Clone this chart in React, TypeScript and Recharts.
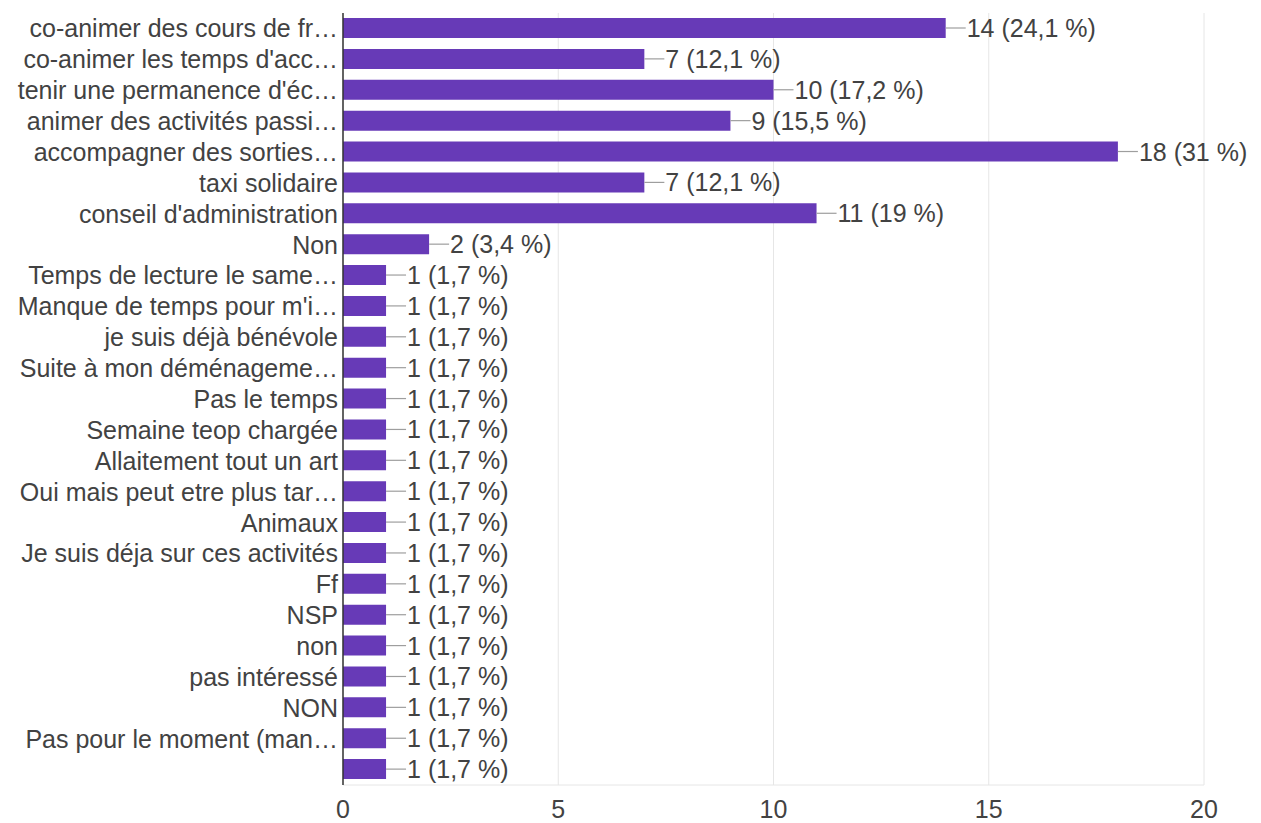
import React from 'react';
import { BarChart, Bar, XAxis, YAxis, CartesianGrid, LabelList } from 'recharts';

// Answers as shown (already truncated like the source chart)
const categories = [
  'co-animer des cours de fr…',
  "co-animer les temps d'acc…",
  "tenir une permanence d'éc…",
  'animer des activités passi…',
  'accompagner des sorties…',
  'taxi solidaire',
  "conseil d'administration",
  'Non',
  'Temps de lecture le same…',
  "Manque de temps pour m'i…",
  'je suis déjà bénévole',
  'Suite à mon déménageme…',
  'Pas le temps',
  'Semaine teop chargée',
  'Allaitement tout un art',
  'Oui mais peut etre plus tar…',
  'Animaux',
  'Je suis déja sur ces activités',
  'Ff',
  'NSP',
  'non',
  'pas intéressé',
  'NON',
  'Pas pour le moment (man…',
  '',
];

const counts = [14, 7, 10, 9, 18, 7, 11, 2, 1, 1, 1, 1, 1, 1, 1, 1, 1, 1, 1, 1, 1, 1, 1, 1, 1];

const percents = [
  '24,1', '12,1', '17,2', '15,5', '31', '12,1', '19', '3,4',
  '1,7', '1,7', '1,7', '1,7', '1,7', '1,7', '1,7', '1,7', '1,7',
  '1,7', '1,7', '1,7', '1,7', '1,7', '1,7', '1,7', '1,7',
];

const xTicks = [0, 5, 10, 15, 20];

const chartData = categories.map((name, i) => ({
  name: `${i}|${name}`,
  count: counts[i],
}));

const FONT = '"Liberation Sans", Arial, sans-serif';
const TEXT = '#424242';
const SIZE = 25;

// value label with the short leader line, like Google Forms
const ValueLabel = (props: any) => {
  const { x, y, width, height, index } = props;
  const endX = x + width;
  const cy = y + height / 2;
  return (
    <g>
      <line x1={endX} y1={cy} x2={endX + 20} y2={cy} stroke="#9e9e9e" strokeWidth={1.2} />
      <text
        x={endX + 21}
        y={cy}
        dominantBaseline="central"
        fontSize={SIZE}
        fontFamily={FONT}
        fill={TEXT}
      >
        {`${counts[index]} (${percents[index]} %)`}
      </text>
    </g>
  );
};

const CategoryTick = (props: any) => {
  const { y, payload } = props;
  const label = String(payload.value).split('|').slice(1).join('|');
  return (
    <text
      x={338}
      y={y}
      textAnchor="end"
      dominantBaseline="central"
      fontSize={SIZE}
      fontFamily={FONT}
      fill={TEXT}
    >
      {label}
    </text>
  );
};

export default function App() {
  return (
    <div style={{ position: 'absolute', left: 0, top: 0, background: '#fff' }}>
      <BarChart
        width={1261}
        height={823}
        data={chartData}
        layout="vertical"
        margin={{ top: 13, right: 57, bottom: 8, left: 0 }}
      >
        <CartesianGrid horizontal={false} stroke="#e6e6e6" />
        <XAxis
          type="number"
          domain={[0, 20]}
          ticks={xTicks}
          height={30}
          axisLine={{ stroke: '#e6e6e6' }}
          tickLine={false}
          tickMargin={9}
          tick={{ fontSize: SIZE, fontFamily: FONT, fill: TEXT }}
        />
        <YAxis
          type="category"
          dataKey="name"
          width={343}
          axisLine={{ stroke: '#333333', strokeWidth: 1.5 }}
          tickLine={false}
          interval={0}
          tick={<CategoryTick />}
        />
        <Bar dataKey="count" fill="#673ab7" barSize={20} isAnimationActive={false}>
          <LabelList dataKey="count" content={<ValueLabel />} />
        </Bar>
      </BarChart>
    </div>
  );
}
